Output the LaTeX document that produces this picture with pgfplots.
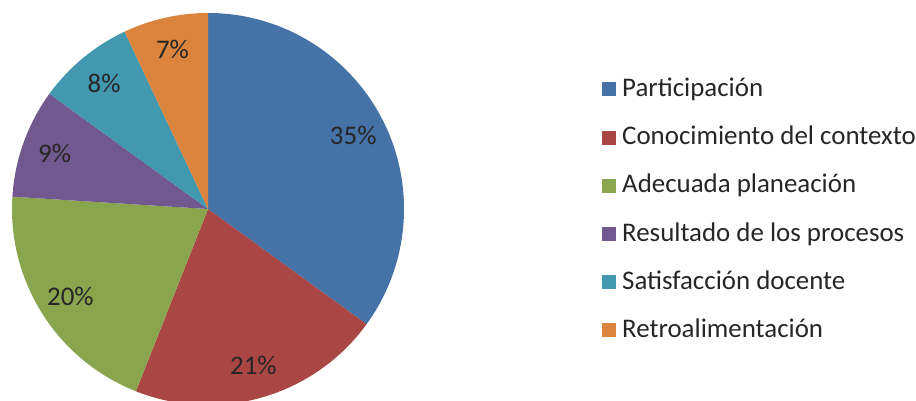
\documentclass[border=0pt]{standalone}
\usepackage{fontspec}
\setmainfont{Carlito}
\usepackage{pgfplots}
\usepackage{pgfplotstable}
\pgfplotsset{compat=1.18}

\definecolor{sl1}{HTML}{4572A7}
\definecolor{sl2}{HTML}{AA4643}
\definecolor{sl3}{HTML}{89A54E}
\definecolor{sl4}{HTML}{71588F}
\definecolor{sl5}{HTML}{4198AF}
\definecolor{sl6}{HTML}{DB843D}

\newcommand\lbl{\fontsize{27}{32}\selectfont}

% share of each category, in percent
\pgfplotstableread[col sep=comma]{
name,pct,col
Participación,35,sl1
Conocimiento del contexto,21,sl2
Adecuada planeación,20,sl3
Resultado de los procesos,9,sl4
Satisfacción docente,8,sl5
Retroalimentación,7,sl6
}\piedata
\pgfplotstablecreatecol[create col/expr accum={\pgfmathaccuma+\thisrow{pct}}{0}]{cum}{\piedata}

% one wedge, its label and its legend entry (values expanded now,
% since pgfplots draws the collected paths at the end of the axis)
\newcommand\slice[1]{%
  \pgfplotstablegetelem{#1}{pct}\of\piedata \let\pv\pgfplotsretval
  \pgfplotstablegetelem{#1}{cum}\of\piedata \let\cumv\pgfplotsretval
  \pgfplotstablegetelem{#1}{col}\of\piedata \let\colv\pgfplotsretval
  \pgfplotstablegetelem{#1}{name}\of\piedata \let\namev\pgfplotsretval
  \pgfmathsetmacro\sa{90-3.6*(\cumv-\pv)}%
  \pgfmathsetmacro\ea{90-3.6*\cumv}%
  \pgfmathsetmacro\ma{(\sa+\ea)/2}%
  \pgfmathsetmacro\ly{401-89.5-48.2*#1}%
  \edef\next{%
    \noexpand\fill[\colv] (axis cs:208,192) -- ([shift={(\sa:196bp)}]axis cs:208,192)
      arc[start angle=\sa, end angle=\ea, radius=196bp] -- cycle;
    \noexpand\node[font=\noexpand\lbl, text=black!85] at ([shift={(\ma:163bp)}]axis cs:208,192) {\pv\noexpand\%};
    \noexpand\fill[\colv] ([yshift=-7bp]axis cs:602,\ly) rectangle ++(14bp,14bp);
    \noexpand\node[anchor=base west, font=\noexpand\lbl, text=black!85, inner sep=0pt]
      at ([yshift=-7bp]axis cs:622,\ly) {\unexpanded\expandafter{\namev}};
  }\next}

\begin{document}
\begin{tikzpicture}
\useasboundingbox (0,0) rectangle (916bp,401bp);
\begin{axis}[
  x=1bp, y=1bp,
  xmin=0, xmax=916, ymin=0, ymax=401,
  hide axis,
]
\pgfplotsinvokeforeach{0,...,5}{\slice{#1}}
\end{axis}
\end{tikzpicture}
\end{document}
